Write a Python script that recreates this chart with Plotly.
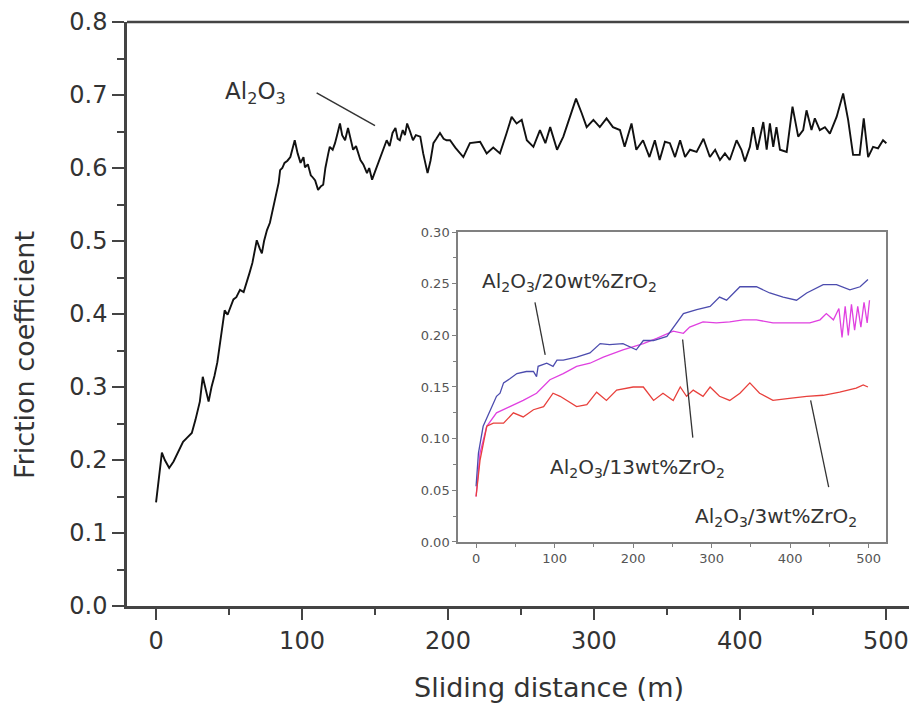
import plotly.graph_objects as go

# ---- main curve: Al2O3 ----
al_x = [0, 2, 4, 6, 9, 12, 15, 18.5, 21, 24.5, 27, 30, 32, 34, 36, 38, 40, 42, 44, 46, 47, 49, 51, 53, 55,
        57.5, 60, 62, 64, 66, 68, 69, 71, 72.5, 74, 76, 78, 80, 82, 84, 85, 86.5, 88, 90, 92, 93.5, 95,
        97, 99, 101, 102, 104, 106, 107, 109, 111, 113, 114.5, 116, 118, 119, 121, 122.6, 124, 126, 127.5,
        129.5, 131.5, 133, 135, 137, 140, 142, 144.5, 146, 148, 150, 153, 155, 158, 160, 162, 164, 165.5,
        167, 169, 170.5, 172, 174, 176, 178, 181, 183, 186, 188, 190, 192, 194.5, 197, 199,
        201.4, 205, 210.5, 215, 222, 226.5, 231, 235.6, 240, 243.6, 247, 250.5, 254, 258.5, 263, 266.7,
        270, 274.7, 279, 283.6, 287.7, 291.6, 295, 299.6, 304, 308.6, 313, 317.8, 321, 325.7, 329, 333.6,
        338, 341.7, 345, 348.6, 352, 355.5, 359, 362.4, 365.8, 370.3, 375, 379.4, 383, 386.3, 389.7, 393,
        397.7, 401, 403.4, 406.8, 409, 411.9, 416, 418.3, 420.5, 422.8, 425, 427.4, 432, 436, 439.9,
        443.3, 445.6, 449, 451.3, 454.7, 458.2, 461.6, 466.2, 470.7, 474.1, 477.5, 482, 484.8, 487.8,
        491.2, 494.6, 498, 500.3]
al_y = [0.142, 0.18, 0.21, 0.2, 0.189, 0.198, 0.21, 0.225, 0.23, 0.237, 0.255, 0.28, 0.314, 0.295, 0.28,
        0.3, 0.315, 0.334, 0.36, 0.39, 0.405, 0.399, 0.41, 0.42, 0.423, 0.433, 0.43, 0.442, 0.456, 0.47,
        0.49, 0.501, 0.49, 0.483, 0.5, 0.515, 0.525, 0.542, 0.56, 0.58, 0.597, 0.6, 0.607, 0.61, 0.615,
        0.625, 0.638,
        0.62, 0.607, 0.615, 0.601, 0.605, 0.59, 0.588, 0.583, 0.57, 0.575, 0.577, 0.6, 0.62, 0.629, 0.625,
        0.634, 0.645, 0.661, 0.645, 0.638, 0.655, 0.64, 0.625, 0.63, 0.611, 0.605, 0.593, 0.6, 0.584,
        0.595, 0.611, 0.62, 0.638, 0.63, 0.648, 0.655, 0.64, 0.638, 0.652, 0.645, 0.661, 0.65, 0.638,
        0.645, 0.643, 0.62, 0.593, 0.61, 0.634, 0.64, 0.648, 0.64, 0.638,
        0.638, 0.628, 0.615, 0.634, 0.636, 0.62, 0.628, 0.62, 0.647, 0.67, 0.661, 0.666, 0.638, 0.629,
        0.652, 0.634, 0.656, 0.625, 0.643, 0.67, 0.695, 0.675, 0.656, 0.666, 0.656, 0.668, 0.656, 0.652,
        0.629, 0.661, 0.625, 0.638, 0.615, 0.638, 0.611, 0.636, 0.634, 0.615, 0.638, 0.615, 0.625, 0.622,
        0.64, 0.615, 0.625, 0.611, 0.62, 0.611, 0.638, 0.625, 0.609, 0.629, 0.656, 0.625, 0.663, 0.625,
        0.661, 0.629, 0.656, 0.625, 0.622, 0.684, 0.643, 0.652, 0.679, 0.652, 0.668, 0.652, 0.656, 0.647,
        0.670, 0.702, 0.666, 0.618, 0.618, 0.668, 0.615, 0.629, 0.627, 0.638, 0.634]

# ---- inset curves ----
z20_x = [0, 3, 9, 18, 26, 30.5, 35, 43, 52, 64, 73, 77, 79, 90, 98, 103, 111, 128, 145, 158, 170, 187,
         204, 213, 226, 243, 255, 264, 281, 298, 310, 319, 336, 357, 374, 391, 408, 421, 442, 459, 476,
         489, 499]
z20_y = [0.054, 0.086, 0.112, 0.128, 0.141, 0.144, 0.154, 0.158, 0.163, 0.165, 0.165, 0.16, 0.170, 0.173,
         0.170, 0.176, 0.176, 0.179, 0.183, 0.192, 0.191, 0.192, 0.186, 0.195, 0.195, 0.199, 0.212, 0.221,
         0.225, 0.228, 0.237, 0.234, 0.247, 0.247, 0.241, 0.237, 0.234, 0.241, 0.249, 0.249, 0.244, 0.247,
         0.254]

z13_x = [0, 5, 13.6, 26, 43, 60, 77, 94, 111, 128, 145, 162, 187, 213, 230, 251, 264, 272, 289, 306,
         323, 340, 357, 378, 399, 425, 438, 446, 455, 462, 466, 470, 474, 478, 482, 486, 490, 494, 498, 501]
z13_y = [0.044, 0.086, 0.112, 0.125, 0.131, 0.137, 0.144, 0.157, 0.163, 0.170, 0.173, 0.179, 0.186, 0.192,
         0.197, 0.204, 0.202, 0.208, 0.213, 0.212, 0.213, 0.215, 0.215, 0.212, 0.212, 0.212, 0.215, 0.221,
         0.215, 0.226, 0.198, 0.228, 0.200, 0.230, 0.205, 0.228, 0.208, 0.232, 0.212, 0.234]

z3_x = [0, 5, 13.6, 22, 35, 47.5, 60, 73, 86, 98, 107, 115, 128, 141, 153.5, 166, 179, 200, 213, 226,
        238, 251, 260, 268, 276.5, 289, 298, 310, 323, 336, 348.6, 361, 378, 399, 421, 442, 463, 484, 493,
        499]
z3_y = [0.044, 0.079, 0.112, 0.115, 0.115, 0.125, 0.121, 0.128, 0.131, 0.144, 0.141, 0.137, 0.131, 0.133,
        0.145, 0.137, 0.147, 0.150, 0.150, 0.137, 0.144, 0.137, 0.150, 0.141, 0.147, 0.141, 0.150, 0.141,
        0.137, 0.144, 0.154, 0.144, 0.137, 0.139, 0.141, 0.142, 0.145, 0.149, 0.152, 0.150]

FONT = "DejaVu Sans"
TXT = "#333333"

fig = go.Figure()
fig.add_trace(go.Scatter(x=al_x, y=al_y, mode="lines", line=dict(color="#111111", width=1.9),
                         xaxis="x", yaxis="y", showlegend=False))
fig.add_trace(go.Scatter(x=z13_x, y=z13_y, mode="lines", line=dict(color="#e040e0", width=1.3),
                         xaxis="x2", yaxis="y2", showlegend=False))
fig.add_trace(go.Scatter(x=z20_x, y=z20_y, mode="lines", line=dict(color="#4c4cae", width=1.3),
                         xaxis="x2", yaxis="y2", showlegend=False))
fig.add_trace(go.Scatter(x=z3_x, y=z3_y, mode="lines", line=dict(color="#e8403c", width=1.3),
                         xaxis="x2", yaxis="y2", showlegend=False))

fig.update_layout(
    width=909, height=707, showlegend=False,
    margin=dict(l=127, r=0, t=22, b=101),
    paper_bgcolor="white", plot_bgcolor="white",
    font=dict(family=FONT, color=TXT),
    xaxis=dict(range=[-19.9, 515.8], domain=[0, 1], showline=True, linecolor="#444",
               linewidth=2.5, ticks="outside", ticklen=11, tickwidth=2, tickcolor="#444",
               tickvals=[0, 100, 200, 300, 400, 500], showgrid=False, zeroline=False,
               tickfont=dict(size=24, family=FONT, color=TXT),
               minor=dict(tickvals=[50, 150, 250, 350, 450], ticklen=6, tickwidth=2, tickcolor="#444",
                          ticks="outside", showgrid=False)),
    yaxis=dict(range=[0, 0.8], domain=[0, 1], showline=True, linecolor="#444", linewidth=2.5,
               ticks="outside", ticklen=12, tickwidth=2, tickcolor="#444", dtick=0.1, tickformat=".1f",
               showgrid=False, zeroline=False, tickfont=dict(size=24, family=FONT, color=TXT),
               minor=dict(dtick=0.05, ticklen=7, tickwidth=2, tickcolor="#444", ticks="outside",
                          showgrid=False)),
    xaxis2=dict(range=[-23, 522], domain=[0.4233, 0.9706], anchor="y2", showline=True, mirror=True,
                linecolor="#808080", linewidth=1.5, ticks="outside", ticklen=4, tickcolor="#808080",
                tickvals=[0, 100, 200, 300, 400, 500], showgrid=False, zeroline=False,
                tickfont=dict(size=13, family=FONT, color="#555"),
                minor=dict(tickvals=[50, 150, 250, 350, 450], ticklen=3, tickcolor="#808080",
                           ticks="outside", showgrid=False)),
    yaxis2=dict(range=[0, 0.30], domain=[0.1096, 0.6404], anchor="x2", showline=True, mirror=True,
                linecolor="#808080", linewidth=1.5, ticks="outside", ticklen=4, tickcolor="#808080",
                dtick=0.05, tickformat=".2f", showgrid=False, zeroline=False,
                tickfont=dict(size=13, family=FONT, color="#555"),
                minor=dict(dtick=0.025, ticklen=3, tickcolor="#808080", ticks="outside",
                           showgrid=False)),
)

ann = []
# axis titles
ann.append(dict(text="Friction coefficient", xref="paper", yref="paper", x=-0.1304, y=0.4298,
                textangle=-90, showarrow=False, font=dict(size=27, family=FONT, color=TXT),
                xanchor="center", yanchor="middle"))
ann.append(dict(text="Sliding distance (m)", xref="paper", yref="paper", x=0.5396, y=-0.1404,
                showarrow=False, font=dict(size=27, family=FONT, color=TXT),
                xanchor="center", yanchor="middle"))
# curve labels
ann.append(dict(text="Al<sub>2</sub>O<sub>3</sub>", xref="x", yref="y", x=45.9, y=0.703,
                showarrow=False, font=dict(size=23, family=FONT, color=TXT),
                xanchor="left", yanchor="middle"))
ann.append(dict(text="Al<sub>2</sub>O<sub>3</sub>/20wt%ZrO<sub>2</sub>", xref="x2", yref="y2",
                x=5, y=0.252, showarrow=False, font=dict(size=20, family=FONT, color=TXT),
                xanchor="left", yanchor="middle"))
ann.append(dict(text="Al<sub>2</sub>O<sub>3</sub>/13wt%ZrO<sub>2</sub>", xref="x2", yref="y2",
                x=92, y=0.072, showarrow=False, font=dict(size=20, family=FONT, color=TXT),
                xanchor="left", yanchor="middle"))
ann.append(dict(text="Al<sub>2</sub>O<sub>3</sub>/3wt%ZrO<sub>2</sub>", xref="x2", yref="y2",
                x=276, y=0.024, showarrow=False, font=dict(size=20, family=FONT, color=TXT),
                xanchor="left", yanchor="middle"))
fig.update_layout(annotations=ann)

# top frame line + leader lines
shapes = [
    dict(type="line", xref="paper", yref="paper", x0=0, y0=1, x1=1.02, y1=1,
         line=dict(color="#444", width=2.5)),
    dict(type="line", xref="x", yref="y", x0=110, y0=0.703, x1=150, y1=0.658,
         line=dict(color="#333", width=1.5)),
    dict(type="line", xref="x2", yref="y2", x0=75, y0=0.232, x1=88, y1=0.181,
         line=dict(color="#333", width=1.3)),
    dict(type="line", xref="x2", yref="y2", x0=263, y0=0.196, x1=276, y1=0.101,
         line=dict(color="#333", width=1.3)),
    dict(type="line", xref="x2", yref="y2", x0=426, y0=0.137, x1=449, y1=0.053,
         line=dict(color="#333", width=1.3)),
]
fig.update_layout(shapes=shapes)

fig.write_html("out.html", config={"displayModeBar": False},
               post_script="document.body.style.margin='0';document.body.style.overflow='hidden';")
